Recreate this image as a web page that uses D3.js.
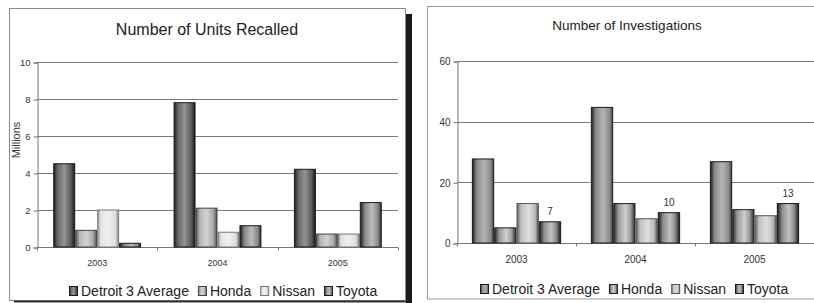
<!DOCTYPE html>
<html>
<head>
<meta charset="utf-8">
<script src="https://cdn.jsdelivr.net/npm/d3@7"></script>
<style>
  body { margin: 0; background: #fff; }
  svg { display: block; font-family: Arial, "Liberation Sans", sans-serif; }
</style>
</head>
<body>
<svg width="814" height="303"></svg>
<script>
// data
var years = ["2003", "2004", "2005"];
var makers = ["Detroit 3 Average", "Honda", "Nissan", "Toyota"];

var unitsDetroit = [4.5, 7.8, 4.2];
var unitsHonda = [0.9, 2.1, 0.7];
var unitsNissan = [2.0, 0.8, 0.7];
var unitsToyota = [0.2, 1.15, 2.4];
var unitsTicks = [0, 2, 4, 6, 8, 10];

var invDetroit = [27.7, 44.7, 26.8];
var invHonda = [5, 13, 11];
var invNissan = [13, 8, 9];
var invToyota = [7, 10, 13];
var invTicks = [0, 20, 40, 60];

var svg = d3.select('svg');
var defs = svg.append('defs');

svg.append('rect').attr('width', 814).attr('height', 303).attr('fill', '#fff');

// cylinder-ish shading for each bar series
function shade(id, stops) {
  var g = defs.append('linearGradient')
    .attr('id', id)
    .attr('x1', '0%').attr('y1', '0%')
    .attr('x2', '100%').attr('y2', '0%');
  stops.forEach(function(s) {
    g.append('stop').attr('offset', s[0]).attr('stop-color', s[1]);
  });
}
shade('u0', [['0%', '#1e1e1e'], ['18%', '#666'], ['50%', '#939393'], ['82%', '#5a5a5a'], ['100%', '#1a1a1a']]);
shade('u1', [['0%', '#555'], ['18%', '#b4b4b4'], ['50%', '#d2d2d2'], ['82%', '#aaa'], ['100%', '#505050']]);
shade('u2', [['0%', '#9a9a9a'], ['15%', '#e4e4e4'], ['50%', '#f0f0f0'], ['85%', '#dcdcdc'], ['100%', '#8a8a8a']]);
shade('u3', [['0%', '#1c1c1c'], ['22%', '#8a8a8a'], ['55%', '#bdbdbd'], ['85%', '#888'], ['100%', '#2a2a2a']]);
shade('i0', [['0%', '#1e1e1e'], ['20%', '#8a8a8a'], ['55%', '#b4b4b4'], ['85%', '#8c8c8c'], ['100%', '#444']]);
shade('i1', [['0%', '#2a2a2a'], ['22%', '#9a9a9a'], ['55%', '#cfcfcf'], ['80%', '#999'], ['100%', '#2a2a2a']]);
shade('i2', [['0%', '#666'], ['20%', '#c4c4c4'], ['55%', '#dedede'], ['85%', '#bbb'], ['100%', '#555']]);
shade('i3', [['0%', '#1a1a1a'], ['22%', '#8c8c8c'], ['55%', '#c2c2c2'], ['80%', '#888'], ['100%', '#1a1a1a']]);

// frames around the two charts
svg.append('rect')
  .attr('x', 9.5).attr('y', 8.5).attr('width', 396).attr('height', 292)
  .attr('fill', 'none').attr('stroke', '#8a8a8a');
svg.append('line')
  .attr('x1', 14).attr('x2', 410).attr('y1', 301.5).attr('y2', 301.5)
  .attr('stroke', '#333').attr('stroke-width', 2);
svg.append('rect')
  .attr('x', 406).attr('y', 14).attr('width', 6).attr('height', 289)
  .attr('fill', '#1a1a1a');
svg.append('rect')
  .attr('x', 427.5).attr('y', 6.5).attr('width', 400).attr('height', 292.5)
  .attr('fill', 'none').attr('stroke', '#999');

function drawChart(c) {
  var g = svg.append('g');

  var x0 = d3.scaleBand().domain(years).range(c.xRange)
    .paddingInner(c.pad).paddingOuter(c.pad / 2);
  var x1 = d3.scaleBand().domain(makers).range([0, x0.bandwidth()]);
  var y = d3.scaleLinear().domain([0, d3.max(c.ticks)]).range(c.yRange);

  // gridlines
  g.selectAll('line.grid')
    .data(c.ticks.slice(1)).enter().append('line')
    .attr('class', 'grid')
    .attr('x1', c.xRange[0]).attr('x2', c.xRange[1])
    .attr('y1', function(d) { return Math.round(y(d)) + 0.5; })
    .attr('y2', function(d) { return Math.round(y(d)) + 0.5; })
    .attr('stroke', '#7a7a7a');

  // y axis
  var yAxis = g.append('g')
    .attr('transform', 'translate(' + (c.xRange[0] + 0.5) + ',0.5)')
    .call(d3.axisLeft(y).tickValues(c.ticks).tickSize(4).tickPadding(3));
  yAxis.selectAll('path, line').attr('stroke', '#777');
  yAxis.selectAll('text')
    .attr('font-size', c.yTickFont).attr('fill', '#333')
    .attr('font-family', 'Arial, "Liberation Sans", sans-serif');

  // x axis
  var xAxis = g.append('g')
    .attr('transform', 'translate(0,' + (Math.round(c.yRange[0]) + 0.5) + ')');
  xAxis.append('line')
    .attr('x1', c.xRange[0]).attr('x2', c.xRange[1])
    .attr('stroke', '#777');
  xAxis.selectAll('line.tk')
    .data(d3.range(years.length + 1)).enter().append('line')
    .attr('class', 'tk')
    .attr('x1', function(i) { return Math.round(c.xRange[0] + i * x0.step()) + 0.5; })
    .attr('x2', function(i) { return Math.round(c.xRange[0] + i * x0.step()) + 0.5; })
    .attr('y1', 0).attr('y2', 3)
    .attr('stroke', '#777');
  xAxis.selectAll('text')
    .data(years).enter().append('text')
    .attr('x', function(d) { return x0(d) + x0.bandwidth() / 2; })
    .attr('y', c.catY - Math.round(c.yRange[0]))
    .attr('text-anchor', 'middle')
    .attr('font-size', c.tickFont).attr('fill', '#333')
    .text(function(d) { return d; });

  // bars
  var groups = g.selectAll('g.year')
    .data(years).enter().append('g')
    .attr('transform', function(d) { return 'translate(' + x0(d) + ',0)'; });

  groups.selectAll('rect')
    .data(function(d, i) {
      return c.series.map(function(s, k) {
        return { maker: makers[k], k: k, value: s[i] };
      });
    }).enter().append('rect')
    .attr('x', function(d) { return x1(d.maker) + 0.5; })
    .attr('width', x1.bandwidth() - 1)
    .attr('y', function(d) { return y(d.value); })
    .attr('height', function(d) { return y(0) - y(d.value); })
    .attr('fill', function(d) { return 'url(#' + c.prefix + d.k + ')'; })
    .attr('stroke', function(d) { return c.edge[d.k]; })
    .attr('stroke-width', 1);

  // value labels (only on the last series)
  if (c.labelSeries != null) {
    groups.append('text')
      .attr('x', x1(makers[c.labelSeries]) + x1.bandwidth() / 2)
      .attr('y', function(d, i) { return y(c.series[c.labelSeries][i]) - 7; })
      .attr('text-anchor', 'middle')
      .attr('font-size', 10).attr('fill', '#333')
      .text(function(d, i) { return c.series[c.labelSeries][i]; });
  }

  // title
  g.append('text')
    .attr('x', c.titleX).attr('y', c.titleY)
    .attr('text-anchor', 'middle')
    .attr('font-size', c.titleFont).attr('fill', '#222')
    .text(c.title);

  if (c.yLabel) {
    g.append('text')
      .attr('transform', 'translate(' + c.yLabelPos + ')rotate(-90)')
      .attr('text-anchor', 'middle')
      .attr('font-size', 11).attr('fill', '#333')
      .text(c.yLabel);
  }

  // legend
  var lg = g.append('g').attr('transform', 'translate(' + c.legend + ')');
  var lx = 0;
  makers.forEach(function(m, k) {
    lg.append('rect')
      .attr('x', lx + 0.5).attr('y', -9.5).attr('width', 8).attr('height', 9)
      .attr('fill', 'url(#' + c.prefix + k + ')')
      .attr('stroke', c.edge[k]);
    var t = lg.append('text')
      .attr('x', lx + 12).attr('y', 0)
      .attr('font-size', 14).attr('fill', '#222')
      .text(m);
    lx += 12 + t.node().getComputedTextLength() + c.legendGap;
  });
}

drawChart({
  title: 'Number of Units Recalled',
  titleX: 207, titleY: 35, titleFont: 16,
  xRange: [37, 398], yRange: [247, 62], pad: 0.27,
  ticks: unitsTicks, tickFont: 9, yTickFont: 9.5, catY: 265,
  series: [unitsDetroit, unitsHonda, unitsNissan, unitsToyota],
  prefix: 'u', edge: ['#1a1a1a', '#444', '#777', '#1a1a1a'],
  yLabel: 'Millions', yLabelPos: [20, 140],
  legend: [69, 296], legendGap: 9
});

drawChart({
  title: 'Number of Investigations',
  titleX: 627, titleY: 30, titleFont: 13.5,
  xRange: [457, 814], yRange: [243, 61], pad: 0.25,
  ticks: invTicks, tickFont: 10, yTickFont: 10, catY: 262,
  series: [invDetroit, invHonda, invNissan, invToyota],
  prefix: 'i', edge: ['#1a1a1a', '#222', '#555', '#1a1a1a'],
  labelSeries: 3,
  legend: [480, 294], legendGap: 9
});
</script>
</body>
</html>
